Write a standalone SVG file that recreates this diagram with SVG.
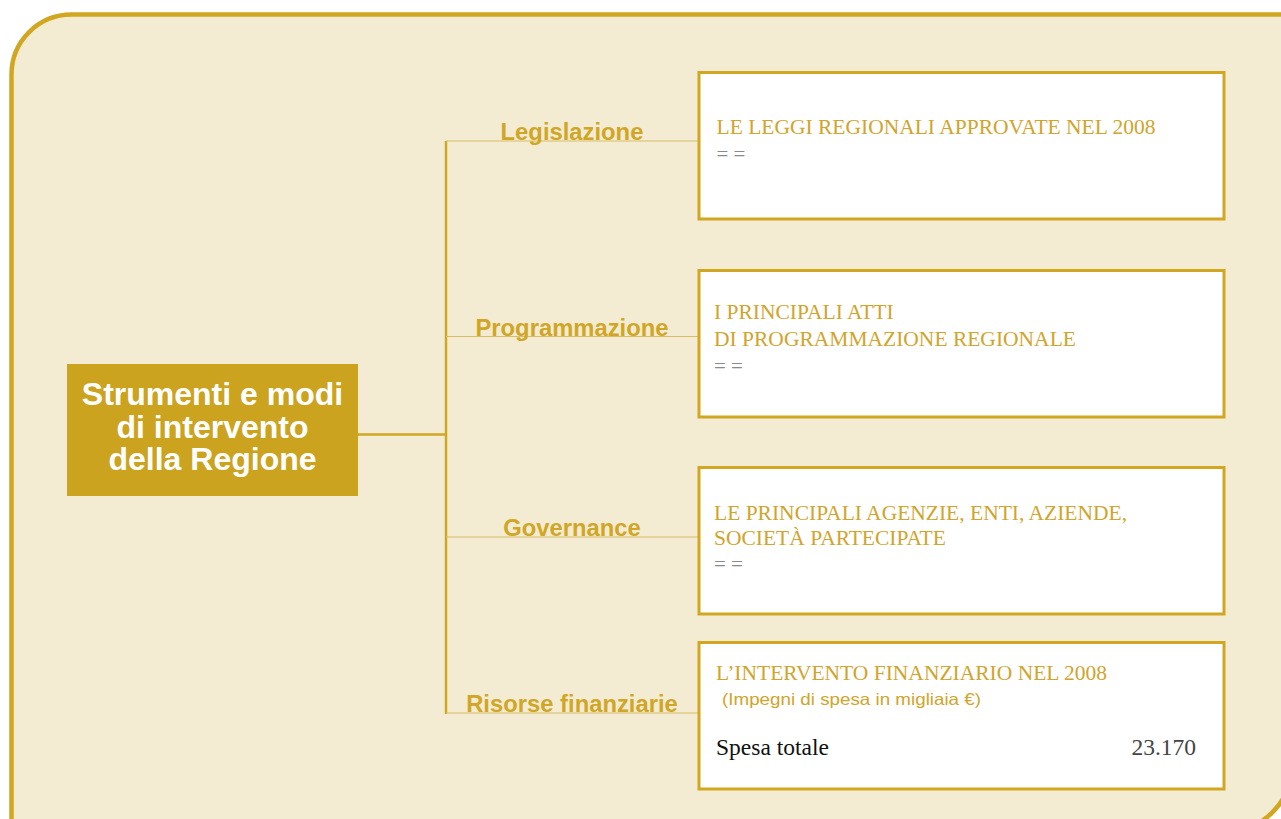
<svg xmlns="http://www.w3.org/2000/svg" width="1281" height="819" viewBox="0 0 1281 819">
<style>
.frame{fill:#F3ECD2;stroke:#D1A620;stroke-width:4.5}
.box{fill:#FFFFFF;stroke:#D1A620;stroke-width:3}
.center{fill:#CBA31F}
.ctext{font-family:"Liberation Sans",Arial,sans-serif;font-weight:bold;font-size:32px;fill:#FFFFFF;text-anchor:middle}
.lbl{font-family:"Liberation Sans",Arial,sans-serif;font-weight:bold;font-size:23.8px;fill:#D1A626;text-anchor:middle}
.ttl{font-family:"Liberation Serif","Times New Roman",serif;font-size:21.5px;fill:#D1A42C}
.eq{font-family:"Liberation Serif","Times New Roman",serif;font-size:21px;fill:#8A8A8A}
.sub{font-family:"Liberation Sans",Arial,sans-serif;font-size:16.5px;fill:#D1A42C}
.blk{font-family:"Liberation Serif","Times New Roman",serif;font-size:23.5px;fill:#111111}
.num{font-family:"Liberation Serif","Times New Roman",serif;font-size:23.5px;fill:#444444;text-anchor:end}
.trunk{stroke:#D1A620;stroke-width:2.5;fill:none}
.branch{stroke:#D8BD66;stroke-width:1.2;fill:none}
</style>
<rect id="background" x="0" y="0" width="1281" height="819" fill="#FFFFFF"/>
<path class="frame" d="M 11.5 860 L 11.5 74.5 A 60 60 0 0 1 71.5 14.5 L 1292 14.5 L 1292 765 A 67 67 0 0 1 1225 832 L 11.5 832 Z"/>
<g id="connectors">
<line class="trunk" x1="358" y1="434.5" x2="446" y2="434.5"/>
<line class="trunk" x1="446" y1="141" x2="446" y2="714"/>
<line class="branch" x1="446" y1="141" x2="699" y2="141"/>
<line class="branch" x1="446" y1="336.5" x2="699" y2="336.5"/>
<line class="branch" x1="446" y1="537" x2="699" y2="537"/>
<line class="branch" x1="446" y1="713" x2="699" y2="713"/>
</g>
<g id="labels">
<text class="lbl" x="572" y="140">Legislazione</text>
<text class="lbl" x="572" y="335.5">Programmazione</text>
<text class="lbl" x="572" y="536">Governance</text>
<text class="lbl" x="572" y="712">Risorse finanziarie</text>
</g>
<g id="root">
<rect class="center" x="67" y="364" width="291" height="132"/>
<text class="ctext" x="212.5" y="405">Strumenti e modi</text>
<text class="ctext" x="212.5" y="438">di intervento</text>
<text class="ctext" x="212.5" y="470">della Regione</text>
</g>
<g id="box-legislazione">
<rect class="box" x="699" y="72.5" width="525" height="146.5"/>
<text class="ttl" x="716.5" y="134">LE LEGGI REGIONALI APPROVATE NEL 2008</text>
<text class="eq" x="716.5" y="161">= =</text>
</g>
<g id="box-programmazione">
<rect class="box" x="699" y="270.5" width="525" height="146.5"/>
<text class="ttl" x="714" y="319">I PRINCIPALI ATTI</text>
<text class="ttl" x="714" y="345.5">DI PROGRAMMAZIONE REGIONALE</text>
<text class="eq" x="714" y="373">= =</text>
</g>
<g id="box-governance">
<rect class="box" x="699" y="467.5" width="525" height="146.5"/>
<text class="ttl" x="714" y="519.5">LE PRINCIPALI AGENZIE, ENTI, AZIENDE,</text>
<text class="ttl" x="714" y="545">SOCIETÀ PARTECIPATE</text>
<text class="eq" x="714" y="571">= =</text>
</g>
<g id="box-risorse">
<rect class="box" x="699" y="642.5" width="525" height="146.5"/>
<text class="ttl" x="716" y="679.5">L’INTERVENTO FINANZIARIO NEL 2008</text>
<text class="sub" x="722" y="705" textLength="259" lengthAdjust="spacingAndGlyphs">(Impegni di spesa in migliaia €)</text>
<text class="blk" x="716" y="755">Spesa totale</text>
<text class="num" x="1196" y="755">23.170</text>
</g>
</svg>
